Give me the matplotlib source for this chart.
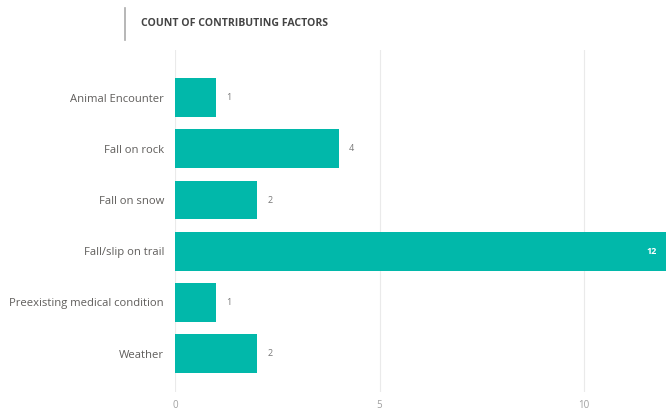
import matplotlib
matplotlib.use("Agg")
import matplotlib.pyplot as plt
from matplotlib.lines import Line2D

categories = ["Animal Encounter", "Fall on rock", "Fall on snow", "Fall/slip on trail",
              "Preexisting medical condition", "Weather"]
counts = [1, 4, 2, 12, 1, 2]
xticks = [0, 5, 10]
title = "COUNT OF CONTRIBUTING FACTORS"

plt.rcParams['font.family'] = ['Open Sans', 'DejaVu Sans']

fig = plt.figure(figsize=(6.66, 4.17), dpi=100)
ax = fig.add_axes([175/666, 25/417, 1 - 175/666, 342/417])

ypos = list(range(len(categories)))
ax.barh(ypos, counts, height=0.76, color="#01B8AA")
ax.set_ylim(5.75, -0.93)
ax.set_xlim(0, 12)
ax.set_yticks(ypos)
ax.set_yticklabels(categories, fontsize=8.1, color="#605E5C")
ax.set_xticks(xticks)
ax.set_xticklabels([str(t) for t in xticks], fontsize=7, color="#A0A0A0")
ax.tick_params(axis='both', length=0)
ax.tick_params(axis='y', pad=8)
ax.tick_params(axis='x', pad=6)
for s in ax.spines.values():
    s.set_visible(False)
ax.xaxis.grid(True, color="#EAEAEA", linewidth=0.8)
ax.set_axisbelow(True)

for y, v in zip(ypos, counts):
    if v >= 11:
        ax.text(v - 0.22, y, str(v), ha='right', va='center', fontsize=6.5,
                color="white", fontweight='bold')
    else:
        ax.text(v + 0.25, y, str(v), ha='left', va='center', fontsize=6.5,
                color="#777777")

fig.text(141/666, 1 - 24/417, title, fontsize=7.6, fontweight='bold',
         color="#444444", va='center', ha='left')
fig.add_artist(Line2D([125/666, 125/666], [1 - 8/417, 1 - 40/417],
                      color="#AAAAAA", linewidth=1.2))

fig.savefig("out.png", dpi=100, facecolor="white")
